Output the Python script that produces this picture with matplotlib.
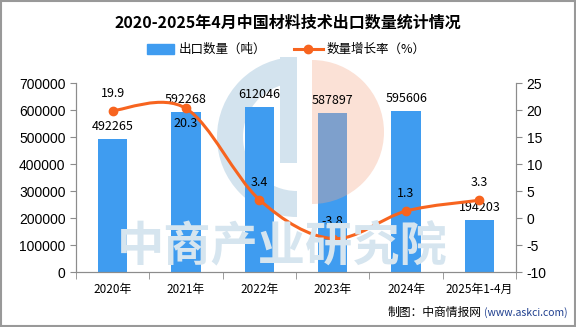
import numpy as np
import matplotlib.pyplot as plt
from matplotlib.path import Path
from matplotlib.patches import PathPatch, Rectangle, Wedge
from matplotlib.transforms import IdentityTransform

plt.rcParams['font.family'] = ['Noto Sans CJK SC', 'DejaVu Sans']

years = ['2020年', '2021年', '2022年', '2023年', '2024年', '2025年1-4月']
qty = [492265, 592268, 612046, 587897, 595606, 194203]
growth = [19.9, 20.3, 3.4, -3.8, 1.3, 3.3]

bar_c = '#3f9cf0'
line_c = '#f7641f'
grey = '#8c8c8c'
H = 327

fig = plt.figure(figsize=(5.76, 3.27), dpi=100)
ax = fig.add_axes([0.132, 0.168, 0.764, 0.578])
ax2 = ax.twinx()

x = np.arange(len(years))

# watermark text + logo (pixel coords)
fig.text(0.49, 0.245, '中商产业研究院', fontsize=34, color='#d6e5ef',
         ha='center', va='center', fontweight='bold', zorder=0)
px = IdentityTransform()
ax.add_patch(Wedge((297, H - 137), 80, 90, 270, width=26, facecolor='#d3e3ee',
                   lw=0, transform=px, clip_on=False, zorder=1))
ax.add_patch(Rectangle((280, H - 163), 17, 106, facecolor='#d3e3ee', lw=0,
                       transform=px, clip_on=False, zorder=1))
ax.add_patch(Wedge((312, H - 132), 72, -90, 90, facecolor='#f4a98a', alpha=0.35,
                   lw=0, transform=px, clip_on=False, zorder=2.5))

ax.bar(x, qty, width=0.4, color=bar_c, zorder=2)
for xi, v in zip(x, qty):
    ax.text(xi, v + 22000, str(v), ha='center', va='bottom', fontsize=9, zorder=4)

ax.set_xlim(-0.5, len(years) - 0.5)
ax.set_ylim(0, 700000)
ax.set_yticks(range(0, 700001, 100000))
ax.set_yticklabels([str(v) for v in range(0, 700001, 100000)], fontsize=10,
                   family='Liberation Sans')
ax.set_xticks(x)
ax.set_xticklabels(years, fontsize=8.5)
ax.set_xticks(np.arange(-0.5, len(years)), minor=True)
ax.tick_params(axis='x', which='major', length=0, pad=8)
ax.tick_params(axis='x', which='minor', length=5, color=grey)
ax.tick_params(axis='y', length=4, color=grey)

ax2.set_ylim(-10, 25)
ax2.set_yticks(range(-10, 26, 5))
ax2.set_yticklabels([str(v) for v in range(-10, 26, 5)], fontsize=10,
                    family='Liberation Sans')
ax2.tick_params(axis='y', length=4, color=grey)

for a in (ax, ax2):
    a.spines['top'].set_visible(False)
    for s in ('left', 'right', 'bottom'):
        a.spines[s].set_color(grey)

# smooth curve through growth points (catmull-rom drawn as bezier)
pts = np.column_stack([x, growth]).astype(float)
verts = [tuple(pts[0])]
codes = [Path.MOVETO]
t = 0.5
for i in range(len(pts) - 1):
    p0 = pts[i - 1] if i > 0 else pts[i]
    p1 = pts[i]
    p2 = pts[i + 1]
    p3 = pts[i + 2] if i + 2 < len(pts) else pts[i + 1]
    c1 = p1 + (p2 - p0) * t / 3
    c2 = p2 - (p3 - p1) * t / 3
    verts += [tuple(c1), tuple(c2), tuple(p2)]
    codes += [Path.CURVE4] * 3
ax2.add_patch(PathPatch(Path(verts, codes), fill=False, edgecolor=line_c, lw=2.2, zorder=3))
ax2.plot(x, growth, 'o', color=line_c, ms=6, zorder=4)
for xi, g in zip(x, growth):
    if xi == 1:
        ax2.text(xi, g - 1.5, f'{g}', ha='center', va='top', fontsize=9)
    else:
        ax2.text(xi, g + 2.0, f'{g}', ha='center', va='bottom', fontsize=9)

fig.text(0.5, 0.93, '2020-2025年4月中国材料技术出口数量统计情况', ha='center', va='center',
         fontsize=11.5, fontweight='bold')

# legend
fig.patches.append(Rectangle((0.255, 0.835), 0.047, 0.03, transform=fig.transFigure,
                             color=bar_c))
fig.text(0.31, 0.85, '出口数量（吨）', va='center', fontsize=9)
fig.lines.append(plt.Line2D([0.51, 0.56], [0.85, 0.85], transform=fig.transFigure,
                            color=line_c, lw=2.2))
fig.lines.append(plt.Line2D([0.535], [0.85], transform=fig.transFigure, marker='o',
                            color=line_c, ms=6))
fig.text(0.566, 0.85, '数量增长率（%）', va='center', fontsize=9)

fig.text(0.672, 0.043, '制图：中商情报网', va='center', fontsize=8.5)
fig.text(0.84, 0.043, '(www.askci.com)', va='center', ha='left', fontsize=7.5,
         color='#1f3f8f')

fig.patches.append(Rectangle((0.001, 0.002), 0.997, 0.995, transform=fig.transFigure,
                             fill=False, edgecolor='#999999', lw=1.5))

fig.savefig('out.png', dpi=100)
